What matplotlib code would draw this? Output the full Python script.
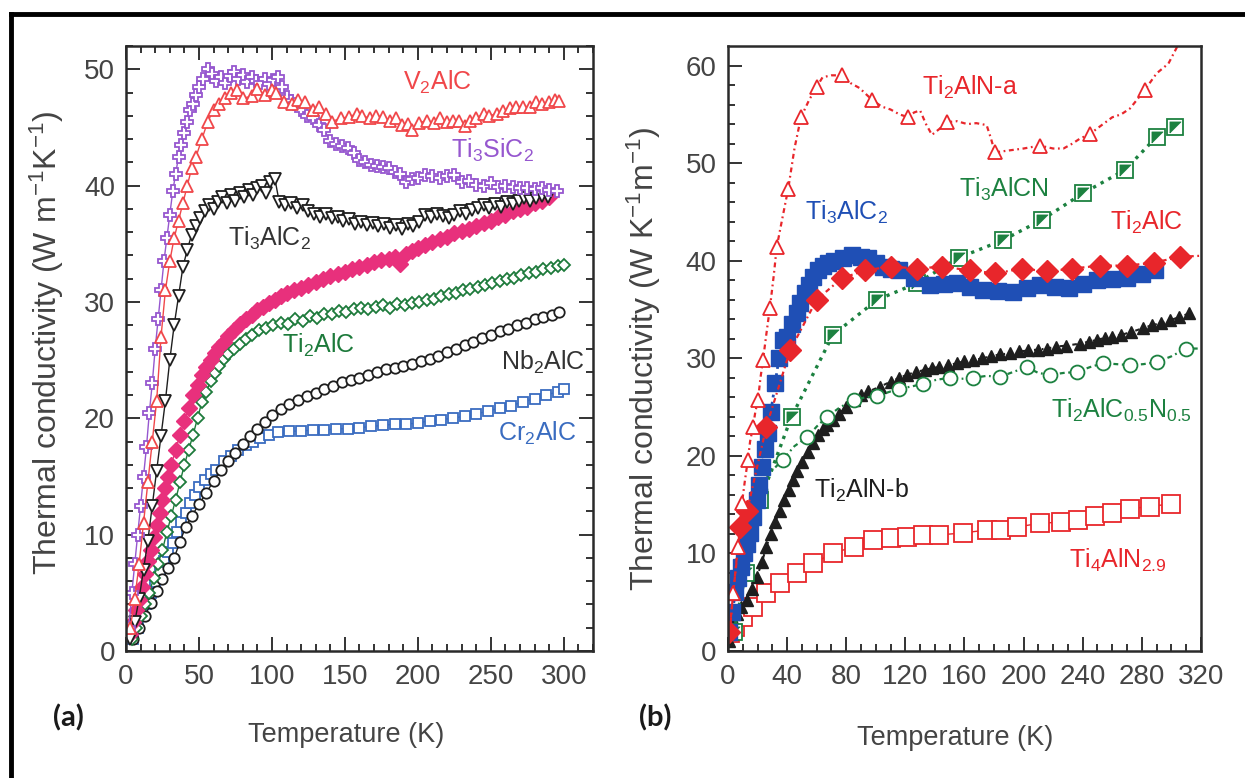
import matplotlib
matplotlib.use('Agg')
import matplotlib.pyplot as plt
from matplotlib.lines import Line2D
from matplotlib.path import Path

# ---- (a) ----
t_v2alc = [3, 6, 9, 12, 15, 18, 21, 24, 27, 30, 33, 36, 39, 42, 45, 48, 52, 56, 60, 64, 68, 72, 76, 80, 86, 90, 95, 100, 103,
	108, 114, 118, 123, 128, 132, 137, 141, 147, 153, 158, 162, 167, 171, 176, 181, 185, 189, 193, 196, 201, 206, 211, 215,
	220, 224, 228, 232, 236, 240, 245, 249, 254, 258, 263, 267, 272, 277, 281, 285, 290, 294, 297]
k_v2alc = [2, 4.5, 7.5, 11, 14.5, 18, 21.5, 27, 31, 33.5, 35.5, 37, 38.5, 40, 41.5, 42.5, 44, 45.5, 46.5, 47, 47.5, 48, 48.2,
	47.5, 47.7, 48.3, 47.8, 48.2, 48, 47.2, 47, 47.4, 47.2, 46.5, 46.8, 46.2, 45.5, 45.8, 45.9, 46.2, 46, 45.8, 46, 45.9,
	45.6, 45.8, 45.2, 45.3, 44.8, 45.4, 45.6, 45.4, 45.8, 45.5, 45.6, 45.6, 45.1, 45.6, 45.8, 46.2, 46, 46.2, 46.4, 46.7,
	46.8, 46.8, 46.8, 47.2, 47, 47.2, 47.4, 47.3]

t_ti3sic2 = [2, 4, 6, 8, 10, 12, 14, 16, 18, 20, 22, 24, 26, 28, 30, 32, 34, 36, 38, 40, 42, 44, 46, 48, 50, 53, 56, 59, 62,
	65, 68, 71, 74, 77, 80, 83, 86, 89, 92, 95, 98, 101, 104, 107, 110, 113, 116, 120, 124, 128, 132, 136, 140, 144, 148,
	152, 156, 160, 164, 168, 172, 176, 180, 184, 188, 192, 196, 200, 205, 210, 215, 220, 225, 230, 235, 240, 245, 250, 255,
	260, 265, 270, 275, 280, 285, 290, 295]
k_ti3sic2 = [2, 5, 7.5, 10, 12.5, 15, 17.5, 20.5, 23, 26, 28.5, 31, 33.5, 35.5, 37.5, 39.5, 41, 42.5, 43.5, 44.5, 45.5, 46.5,
	47, 47.8, 48.5, 49.2, 50, 49.6, 49, 49.3, 48.8, 49.4, 49.8, 49.2, 49.5, 48.9, 49.3, 49, 48.8, 49.2, 48.7, 49.1, 49.3,
	48.5, 47.6, 47.3, 47, 46.5, 46, 45.8, 45.2, 44.8, 43.8, 43.6, 43.4, 43.2, 42.8, 42.2, 42, 41.8, 41.7, 41.6, 41.5, 41.2,
	41, 40.3, 40.6, 40.7, 40.9, 40.8, 40.7, 40.8, 40.9, 40.3, 40.4, 40.1, 40, 40.2, 39.9, 40, 39.9, 39.8, 39.8, 39.7, 39.8,
	39.6, 39.5]

t_ti3alc2_a = [3, 6, 9, 12, 15, 18, 21, 24, 27, 30, 33, 36, 39, 42, 45, 48, 51, 54, 57, 60, 63, 66, 69, 72, 75, 78, 81, 84,
	87, 90, 93, 96, 99, 102, 105, 109, 113, 117, 121, 125, 129, 133, 137, 141, 145, 149, 153, 157, 161, 165, 169, 173, 177,
	181, 185, 189, 193, 197, 201, 205, 209, 213, 217, 221, 225, 229, 233, 237, 241, 245, 249, 253, 257, 261, 265, 269, 273,
	277, 281, 285, 289]
k_ti3alc2_a = [1, 2.5, 4.5, 7, 9.5, 12.5, 15.5, 18.5, 21.5, 25, 28, 30.5, 33, 34.5, 35.8, 36.5, 37.2, 37.8, 38.3, 38, 38.6,
	39, 38.5, 39.2, 38.7, 39.4, 39, 39.6, 39.2, 39.8, 40, 39.4, 40.3, 40.6, 38.6, 38.3, 38.5, 38.1, 38.3, 37.8, 37.6, 37.3,
	37.6, 37.2, 37.3, 37, 37.1, 36.7, 36.9, 36.6, 36.8, 36.5, 36.7, 36.4, 36.6, 36.3, 36.7, 36.5, 36.9, 37.5, 37.3, 37.6,
	37.4, 37.2, 37.5, 37.8, 37.6, 37.9, 38.1, 38.3, 38.1, 38.4, 38.2, 38.6, 38.4, 38.7, 38.9, 38.7, 38.9, 39.1, 39]

t_pink = [3, 5, 7, 9, 11, 13, 15, 17, 19, 21, 23, 25, 27, 29, 31, 34, 37, 40, 43, 46, 49, 52, 55, 58, 61, 64, 67, 70, 74, 78,
	82, 86, 90, 94, 98, 102, 106, 110, 115, 120, 125, 130, 135, 140, 145, 150, 155, 160, 165, 170, 175, 180, 184, 188, 192,
	196, 200, 205, 210, 215, 220, 225, 230, 235, 240, 245, 250, 255, 260, 265, 270, 275, 280, 285, 290]
k_pink = [1.5, 2.5, 3.5, 4.4, 5.5, 6.6, 7.7, 8.7, 9.8, 10.8, 11.9, 13, 14, 15, 16, 17.3, 18.6, 19.8, 20.9, 22, 22.9, 23.7,
	24.4, 25, 25.6, 26.1, 26.6, 27.1, 27.6, 28.1, 28.5, 28.9, 29.3, 29.6, 29.9, 30.2, 30.5, 30.8, 31, 31.2, 31.5, 31.7, 32,
	32.2, 32.4, 32.6, 32.8, 33, 33.2, 33.4, 33.6, 33.7, 33.9, 33.3, 34.1, 34.4, 34.6, 34.9, 35.2, 35.4, 35.6, 35.9, 36.1,
	36.3, 36.5, 36.8, 37, 37.3, 37.5, 37.8, 38, 38.2, 38.5, 38.7, 39]

t_ti2alc_a = [4, 7, 10, 13, 16, 19, 22, 25, 28, 31, 34, 37, 40, 43, 46, 49, 52, 55, 58, 61, 64, 67, 70, 74, 78, 82, 86, 91,
	96, 101, 106, 111, 116, 121, 126, 131, 136, 141, 146, 151, 156, 161, 166, 171, 176, 181, 186, 191, 196, 201, 206, 211,
	216, 221, 226, 231, 236, 241, 246, 251, 256, 261, 266, 271, 276, 281, 286, 291, 296, 300]
k_ti2alc_a = [1, 2, 3, 4, 5, 6.3, 7.5, 8.7, 10.2, 11.6, 13, 14.5, 16, 17.3, 18.6, 20, 21.4, 22.3, 23.2, 23.9, 24.5, 25.1,
	25.5, 26, 26.4, 26.8, 27.2, 27.6, 27.8, 28, 28.2, 28.1, 28.5, 28.4, 28.8, 28.6, 29, 29, 29.2, 29.1, 29.4, 29.5, 29.4,
	29.6, 29.7, 29.5, 29.8, 29.7, 29.9, 30, 30.2, 30.3, 30.5, 30.7, 30.8, 31, 31.1, 31.3, 31.5, 31.6, 31.8, 32, 32.1, 32.3,
	32.5, 32.6, 32.8, 32.9, 33.1, 33.2]

t_nb2alc = [5, 9, 13, 17, 21, 25, 29, 33, 37, 41, 45, 50, 55, 60, 65, 70, 75, 80, 85, 90, 95, 100, 106, 112, 118, 124, 130,
	136, 142, 148, 154, 160, 166, 172, 178, 184, 190, 196, 202, 208, 214, 220, 226, 232, 238, 244, 250, 256, 262, 268, 274,
	280, 286, 292, 297]
k_nb2alc = [1, 2, 3, 4.1, 5.2, 6.2, 7.1, 8, 9.4, 10.7, 11.6, 12.6, 13.6, 14.6, 15.6, 16.3, 17, 17.8, 18.5, 19.1, 19.7, 20.3,
	20.8, 21.2, 21.6, 21.9, 22.2, 22.5, 22.8, 23.1, 23.3, 23.5, 23.7, 24, 24.2, 24.3, 24.5, 24.7, 24.9, 25.1, 25.4, 25.7, 26,
	26.3, 26.6, 26.9, 27.2, 27.5, 27.7, 28, 28.2, 28.5, 28.7, 28.9, 29.1]

t_cr2alc = [5, 8, 11, 14, 17, 20, 23, 26, 29, 32, 35, 38, 41, 44, 47, 50, 54, 58, 62, 67, 72, 77, 82, 87, 92, 98, 104, 112,
	120, 128, 136, 144, 152, 160, 168, 176, 184, 192, 200, 208, 216, 224, 232, 240, 248, 256, 264, 272, 280, 288, 296, 300]
k_cr2alc = [1, 2, 3, 4, 5, 5.9, 6.8, 7.7, 8.5, 9.3, 10.2, 11.1, 11.9, 12.7, 13.4, 14.1, 14.7, 15.2, 15.6, 16.3, 16.8, 17.3,
	17.7, 18, 18.3, 18.6, 18.8, 18.9, 18.9, 19, 19, 19.1, 19.1, 19.2, 19.3, 19.4, 19.5, 19.5, 19.6, 19.8, 19.9, 20, 20.2,
	20.4, 20.6, 20.9, 21.1, 21.4, 21.7, 22, 22.3, 22.5]

# ---- (b) ----
t_ti2aln_a = [1, 3.5, 5, 7, 8, 9.5, 11.5, 13.5, 15, 17, 18.5, 20.3, 22, 23.7, 26, 28.4, 31, 33, 37, 40.8, 45, 49.4, 55, 60,
	64, 70, 77, 83, 89, 97.4, 104, 110, 116, 122, 126, 130, 134, 138, 143, 148, 155, 162, 168, 175, 178, 180.6, 190, 200,
	211, 220, 227, 233, 238, 245, 252, 260, 266, 272, 282, 290, 298, 304.5]
k_ti2aln_a = [1.5, 5.9, 8, 10.7, 13, 15.2, 17.5, 19.6, 21.5, 23, 24.5, 25.7, 28, 29.8, 32.5, 35.2, 38.5, 41.4, 44.5, 47.4,
	51.5, 54.7, 56.5, 57.8, 58.8, 59, 59, 58.2, 57.7, 56.5, 55.8, 55.5, 55, 54.7, 55.2, 55.4, 54, 52.9, 53.5, 54.2, 54.3, 54,
	54.1, 53.9, 52.5, 51.1, 51.3, 51.5, 51.8, 51.5, 51.5, 52, 52.5, 53, 53.8, 54.7, 55, 55.6, 57.5, 59.2, 60.2, 62.1]
mk_ti2aln_a = [1, 3, 5, 7, 9, 11, 13, 15, 17, 19, 21, 23, 26, 29, 33, 39, 45, 48, 53, 58]

t_ti3alc2_b = [1, 3, 5, 7, 9, 11, 13, 15, 17, 19.5, 21, 23, 25, 27, 29, 32, 34.5, 37, 40, 43, 46.5, 49, 52, 55, 57.5, 61,
	64, 68, 72, 78, 84, 90, 95, 100, 105, 110, 116, 126, 137, 146, 155, 164, 172.5, 183, 193, 202, 211, 221, 231, 240, 250,
	260, 270, 280, 289]
k_ti3alc2_b = [2, 4, 6, 7.5, 8.6, 10, 11, 12.1, 13.7, 15.5, 17, 18.9, 20.7, 22.3, 24.5, 27.5, 30, 31.9, 32.2, 33.5, 34.6,
	35.7, 36.7, 37.5, 38.3, 39, 39.5, 39.8, 40, 40.3, 40.6, 40.4, 40.3, 39.8, 39.4, 39.2, 39, 38.2, 37.5, 37.6, 37.7, 37.3,
	37, 36.9, 36.8, 37.2, 37.5, 37.3, 37.2, 37.6, 38, 38.1, 38.2, 38.6, 39]

t_ti2alc_b = [1, 8, 13, 26, 42, 60, 77, 92.5, 110, 128, 145, 164, 181, 199, 216, 233, 252, 270, 288, 306, 319]
k_ti2alc_b = [2, 12.7, 14.4, 23, 30.8, 36, 38.2, 39, 39.4, 39.2, 39.4, 39, 38.7, 39.2, 38.9, 39.2, 39.5, 39.5, 39.8, 40.4, 40.5]

t_ti3alcn = [4, 12, 22, 43, 71, 101, 128, 156, 186, 212.5, 240, 268.6, 290, 302.5]
k_ti3alcn = [2, 8, 15.5, 24, 32.4, 36, 37.7, 40.3, 42.1, 44.2, 46.9, 49.3, 52.7, 53.7]

t_ti2aln_b = [1, 3.5, 6, 9, 12.6, 16, 19.6, 23, 26, 29, 32, 35, 38, 41, 44, 47, 50, 54, 57.5, 61, 64, 67, 71, 75, 80, 85,
	90, 95, 103, 110, 116, 121, 127, 133, 138, 143, 149, 155, 160, 166, 172, 178, 184, 191, 197, 203, 210, 216, 222, 229,
	238, 244, 250, 255, 260, 266, 273, 281, 287, 293, 299, 305, 312]
k_ti2aln_b = [1, 3.2, 3.8, 4.5, 5.2, 6.4, 7.6, 9.1, 10.7, 12, 13.2, 14.4, 15.5, 16.5, 17.5, 18.5, 19.4, 20.4, 21.3, 22.1,
	22.8, 23.2, 23.7, 24.3, 25, 25.7, 26.2, 26.6, 27.1, 27.6, 28, 28.3, 28.6, 28.8, 29, 29.1, 29.3, 29.5, 29.7, 29.8, 30,
	30.2, 30.4, 30.5, 30.7, 30.8, 30.9, 31, 31.2, 31.3, 31.5, 31.7, 31.9, 32.1, 32.2, 32.4, 32.7, 33.1, 33.4, 33.6, 33.9,
	34.2, 34.6]

t_ti2alcn = [21.6, 28, 37, 45, 53.5, 60, 67, 76, 85, 93, 101, 108, 116, 124, 132, 141, 150, 158, 166, 175, 184, 193, 202,
	210, 218, 227, 236, 245, 254, 263, 272, 281, 290, 300, 310, 319]
k_ti2alcn = [16.5, 18.2, 19.6, 21, 21.9, 23, 24, 25, 25.7, 26, 26.1, 26.5, 26.9, 27.1, 27.4, 27.8, 28, 27.9, 28, 28.2, 28.1,
	28.6, 29.1, 28.5, 28.3, 28.5, 28.6, 29.1, 29.5, 29.4, 29.3, 29.4, 29.6, 30.2, 31, 31]
mk_ti2alcn = [0, 2, 4, 6, 8, 10, 12, 14, 16, 18, 20, 22, 24, 26, 28, 30, 32, 34]

t_ti4aln = [1.5, 4.7, 10, 17, 26, 35, 46.5, 57.5, 71, 85, 98, 110, 121, 132, 143, 159, 175, 185, 195.5, 211, 225, 237, 248,
	260, 272, 285.5, 300]
k_ti4aln = [1.8, 2.5, 3.5, 4.5, 5.9, 7, 8, 9, 10, 10.7, 11.4, 11.6, 11.7, 11.9, 11.9, 12.1, 12.4, 12.4, 12.7, 13.1, 13.2,
	13.4, 13.8, 14.1, 14.6, 14.8, 15.1]

plt.rcParams['font.family'] = ['Liberation Sans Narrow', 'Liberation Sans', 'DejaVu Sans']
plt.rcParams['mathtext.default'] = 'regular'

RED_A = '#f0474a'
PURPLE = '#9657cf'
BLACK = '#1e1e1e'
PINK = '#e8307c'
GREEN = '#1d7a3b'
BLUE_A = '#3a6cc0'
RED_B = '#e8262b'
BLUE_B = '#1f4fb5'
GREEN_B = '#1c8140'
TXT = '#444444'

fig = plt.figure(figsize=(12.45, 7.78), dpi=100)
ax1 = fig.add_axes([0.1012, 0.1632, 0.3751, 0.7776])
ax2 = fig.add_axes([0.5847, 0.1632, 0.3799, 0.7776])

# (a): open markers joined by thin lines
ms = 7.5
ax1.plot(t_cr2alc, k_cr2alc, '-', color=BLUE_A, lw=1, marker='s', ms=ms, mfc='white', mec=BLUE_A, mew=1.3)
ax1.plot(t_nb2alc, k_nb2alc, '-', color=BLACK, lw=1, marker='o', ms=ms, mfc='white', mec=BLACK, mew=1.3)
ax1.plot(t_ti2alc_a, k_ti2alc_a, '-', color=GREEN, lw=1, marker='D', ms=ms - 1, mfc='white', mec=GREEN, mew=1.3)
ax1.plot(t_pink, k_pink, '-', color=PINK, lw=1, marker='D', ms=ms + 1, mfc=PINK, mec=PINK, mew=1)
ax1.plot(t_ti3alc2_a, k_ti3alc2_a, '-', color=BLACK, lw=1, marker='v', ms=ms + 1, mfc='white', mec=BLACK, mew=1.3)
ax1.plot(t_ti3sic2, k_ti3sic2, '-', color=PURPLE, lw=1, marker='P', ms=ms + 1.5, mfc='white', mec=PURPLE, mew=1.3)
ax1.plot(t_v2alc, k_v2alc, '-', color=RED_A, lw=1, marker='^', ms=ms + 1, mfc='white', mec=RED_A, mew=1.3)

ax1.set_xlim(0, 320)
ax1.set_ylim(0, 52)
ax1.set_xticks(range(0, 301, 50))
ax1.set_xticks(range(0, 321, 10), minor=True)
ax1.set_yticks(range(0, 51, 10))
ax1.set_yticks(range(0, 53, 2), minor=True)
ax1.tick_params(which='both', direction='in', top=True, right=True, width=1.4, color='#333333')
ax1.tick_params(which='major', length=10)
ax1.tick_params(which='minor', length=5)

sub = dict(fontsize=18, ha='center', va='center')
ax1.text(213, 48.9, r'V$_2$AlC', color=RED_A, **sub)
ax1.text(251, 43, r'Ti$_3$SiC$_2$', color=PURPLE, **sub)
ax1.text(98, 35.5, r'Ti$_3$AlC$_2$', color='#333333', **sub)
ax1.text(132, 26.3, r'Ti$_2$AlC', color=GREEN, **sub)
ax1.text(286, 24.8, r'Nb$_2$AlC', color='#333333', **sub)
ax1.text(282, 18.7, r'Cr$_2$AlC', color=BLUE_A, **sub)

# (b): markers on dotted / dash-dot lines
dd = (0, (2.2, 1.6, 0.8, 1.6))
ax2.plot(t_ti4aln, k_ti4aln, '-', color=RED_B, lw=1, marker='s', ms=13.5, mfc='white', mec=RED_B, mew=1.3)
ax2.plot(t_ti2aln_b, k_ti2aln_b, linestyle=dd, color=BLACK, lw=1.5, marker='^', ms=9, mfc=BLACK, mec=BLACK)
ax2.plot(t_ti2alcn, k_ti2alcn, linestyle=dd, color=GREEN_B, lw=1.6, marker='o', ms=10, mfc='white', mec=GREEN_B,
	mew=1.3, markevery=mk_ti2alcn)
ax2.plot(t_ti3alcn, k_ti3alcn, linestyle=(0, (1, 1.6)), color=GREEN_B, lw=2.4, marker='s', ms=11, mfc='white',
	mec=GREEN_B, mew=1.3)
# diagonal half fill of the Ti3AlCN squares
half = Path([(-1, -1), (-1, 1), (1, 1), (-1, -1)])
ax2.plot(t_ti3alcn, k_ti3alcn, linestyle='none', marker=half, ms=8, mfc=GREEN_B, mec=GREEN_B, mew=0.5)
ax2.plot(t_ti3alc2_b, k_ti3alc2_b, linestyle=(0, (1, 1.6)), color=BLUE_B, lw=2, marker='s', ms=11.5, mfc=BLUE_B,
	mec=BLUE_B)
ax2.plot(t_ti2alc_b, k_ti2alc_b, linestyle=dd, color=RED_B, lw=1.6, marker='D', ms=11, mfc=RED_B, mec=RED_B,
	markevery=list(range(len(t_ti2alc_b) - 1)))
ax2.plot(t_ti2aln_a, k_ti2aln_a, linestyle=dd, color=RED_B, lw=1.6, marker='^', ms=10, mfc='white', mec=RED_B,
	mew=1.3, markevery=mk_ti2aln_a)

ax2.set_xlim(0, 320)
ax2.set_ylim(0, 62)
ax2.set_xticks(range(0, 321, 40))
ax2.set_xticks(range(0, 321, 10), minor=True)
ax2.set_yticks(range(0, 61, 10))
ax2.set_yticks(range(0, 62, 2), minor=True)
ax2.tick_params(which='both', direction='in', width=1.4, color='#333333')
ax2.tick_params(which='major', length=10)
ax2.tick_params(which='minor', length=5)

ax2.text(164, 57.8, r'Ti$_2$AlN-a', color=RED_B, **sub)
ax2.text(187, 47.3, r'Ti$_3$AlCN', color=GREEN_B, **sub)
ax2.text(80.5, 45, r'Ti$_3$AlC$_2$', color=BLUE_B, **sub)
ax2.text(283, 43.9, r'Ti$_2$AlC', color=RED_B, **sub)
ax2.text(266.5, 24.7, r'Ti$_2$AlC$_{0.5}$N$_{0.5}$', color=GREEN_B, **sub)
ax2.text(90.5, 16.5, r'Ti$_2$AlN-b', color=BLACK, **sub)
ax2.text(264, 9.3, r'Ti$_4$AlN$_{2.9}$', color=RED_B, **sub)

for ax in (ax1, ax2):
	for s in ax.spines.values():
		s.set_linewidth(1.8)
		s.set_color('#2a2a2a')
	ax.tick_params(axis='both', which='major', labelsize=20, labelcolor=TXT)
	ax.tick_params(axis='x', pad=9)
	ax.tick_params(axis='y', pad=8)

ax1.set_ylabel(r'Thermal conductivity (W m$^{-1}$K$^{-1}$)', fontsize=23, color=TXT)
ax2.set_ylabel(r'Thermal conductivity (W K$^{-1}$m$^{-1}$)', fontsize=23, color=TXT)
ax1.yaxis.set_label_coords(-0.128, 0.51)
ax2.yaxis.set_label_coords(-0.137, 0.483)
ax1.set_xlabel('Temperature (K)', fontsize=19.5, color=TXT)
ax2.set_xlabel('Temperature (K)', fontsize=19.5, color=TXT)
ax1.xaxis.set_label_coords(0.471, -0.117)
ax2.xaxis.set_label_coords(0.48, -0.122)

fig.text(68 / 1245, 1 - 718 / 778, '(a)', fontsize=21, fontweight='bold', family=['Lato', 'DejaVu Sans'],
	ha='center', va='center', color='#1a1a1a')
fig.text(655 / 1245, 1 - 718 / 778, '(b)', fontsize=21, fontweight='bold', family=['Lato', 'DejaVu Sans'],
	ha='center', va='center', color='#1a1a1a')

# frame around the figure
fig.add_artist(Line2D([0.009, 1.0], [1 - 14 / 778, 1 - 14 / 778], transform=fig.transFigure, color='black', lw=3.5))
fig.add_artist(Line2D([0.009, 0.009], [0, 1 - 14 / 778], transform=fig.transFigure, color='black', lw=3.5))

fig.savefig('out.png', dpi=100)
